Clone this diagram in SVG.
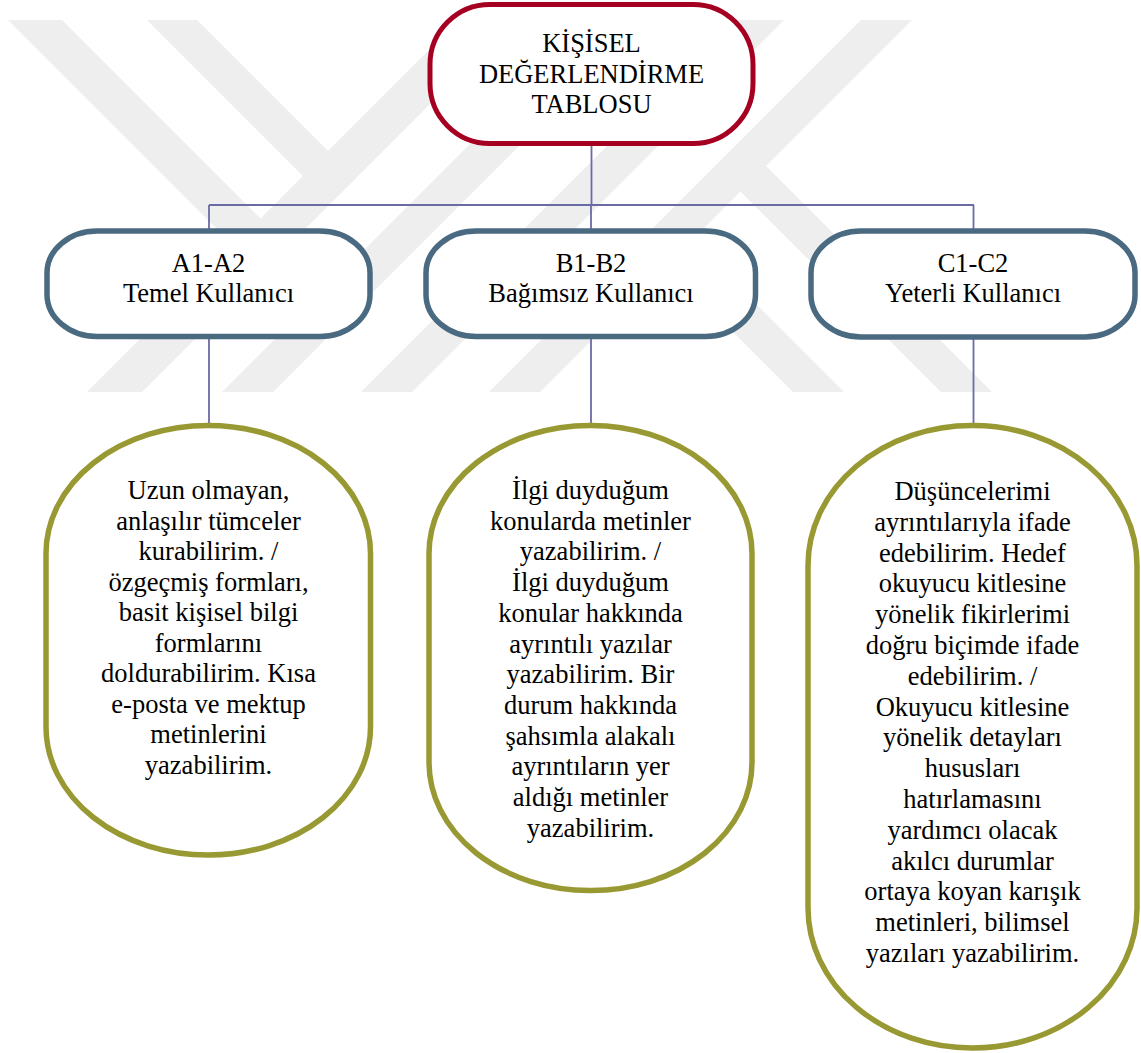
<svg xmlns="http://www.w3.org/2000/svg" width="1141" height="1053" viewBox="0 0 1141 1053">
<style>
  .wm { fill: #eeeeee; }
  .conn { stroke: #6a6aa5; stroke-width: 1.8; fill: none; }
  .top { fill: #ffffff; stroke: #a50021; stroke-width: 5; }
  .mid { fill: #ffffff; stroke: #4a6a81; stroke-width: 5.5; }
  .leaf { fill: #ffffff; stroke: #999933; stroke-width: 5.5; }
  .t { font-family: 'Liberation Serif', 'DejaVu Serif', serif; font-size: 26.5px; fill: #000000; text-anchor: middle; }
</style>
<rect x="0" y="0" width="1141" height="1053" fill="#ffffff"/>
<g id="watermark">
  <polygon class="wm" points="87,392 142,392 514,20 459,20"/>
  <polygon class="wm" points="222,392 273,392 645,20 594,20"/>
  <polygon class="wm" points="361,392 412,392 784,20 733,20"/>
  <polygon class="wm" points="489,392 540,392 912,20 861,20"/>
  <polygon class="wm" points="8,20 62,20 288,246 261,273"/>
  <polygon class="wm" points="147,20 197,20 355.5,178.5 330.5,203.5"/>
  <polygon class="wm" points="715,166 766,166 992,392 941,392"/>
  <polygon class="wm" points="641,240 692,240 844,392 793,392"/>
</g>
<g id="connectors">
  <line class="conn" x1="591.5" y1="145" x2="591.5" y2="205"/>
  <line class="conn" x1="209" y1="205" x2="974" y2="205"/>
  <line class="conn" x1="209" y1="205" x2="209" y2="231"/>
  <line class="conn" x1="591" y1="205" x2="591" y2="231"/>
  <line class="conn" x1="973.5" y1="205" x2="973.5" y2="231"/>
  <line class="conn" x1="209" y1="337" x2="209" y2="425"/>
  <line class="conn" x1="591" y1="337" x2="591" y2="425"/>
  <line class="conn" x1="973.5" y1="337" x2="973.5" y2="425"/>
</g>
<g id="node-root" class="t" font-family="Liberation Serif, serif">
  <rect class="top" x="430" y="4.5" width="323" height="139" rx="60" ry="60"/>
  <text x="591.5" y="52">KİŞİSEL</text>
  <text x="591.5" y="82.5">DEĞERLENDİRME</text>
  <text x="591.5" y="113">TABLOSU</text>
</g>
<g id="node-a" class="t" font-family="Liberation Serif, serif">
  <rect class="mid" x="47" y="231" width="323" height="105.5" rx="50" ry="42"/>
  <text x="208.5" y="272.3">A1-A2</text>
  <text x="208.5" y="302">Temel Kullanıcı</text>
</g>
<g id="node-b" class="t" font-family="Liberation Serif, serif">
  <rect class="mid" x="426" y="231" width="329.5" height="105.5" rx="50" ry="42"/>
  <text x="591" y="272.3">B1-B2</text>
  <text x="591" y="302">Bağımsız Kullanıcı</text>
</g>
<g id="node-c" class="t" font-family="Liberation Serif, serif">
  <rect class="mid" x="811" y="231" width="324" height="106" rx="50" ry="42"/>
  <text x="973" y="272.3">C1-C2</text>
  <text x="973" y="302">Yeterli Kullanıcı</text>
</g>
<g id="leaf-a" class="t" font-family="Liberation Serif, serif">
  <rect class="leaf" x="46" y="425.5" width="324.5" height="429.5" rx="162" ry="128"/>
  <text x="208.5" y="499.3">Uzun olmayan,</text>
  <text x="208.5" y="529.8">anlaşılır tümceler</text>
  <text x="208.5" y="560.3">kurabilirim. /</text>
  <text x="208.5" y="590.8">özgeçmiş formları,</text>
  <text x="208.5" y="621.3">basit kişisel bilgi</text>
  <text x="208.5" y="651.8">formlarını</text>
  <text x="208.5" y="682.3">doldurabilirim. Kısa</text>
  <text x="208.5" y="712.8">e-posta ve mektup</text>
  <text x="208.5" y="743.3">metinlerini</text>
  <text x="208.5" y="773.8">yazabilirim.</text>
</g>
<g id="leaf-b" class="t" font-family="Liberation Serif, serif">
  <rect class="leaf" x="429" y="425.5" width="323" height="465" rx="161" ry="128"/>
  <text x="590.5" y="499">İlgi duyduğum</text>
  <text x="590.5" y="529.7">konularda metinler</text>
  <text x="590.5" y="560.4">yazabilirim. /</text>
  <text x="590.5" y="591.1">İlgi duyduğum</text>
  <text x="590.5" y="621.8">konular hakkında</text>
  <text x="590.5" y="652.5">ayrıntılı yazılar</text>
  <text x="590.5" y="683.2">yazabilirim. Bir</text>
  <text x="590.5" y="713.9">durum hakkında</text>
  <text x="590.5" y="744.6">şahsımla alakalı</text>
  <text x="590.5" y="775.3">ayrıntıların yer</text>
  <text x="590.5" y="806">aldığı metinler</text>
  <text x="590.5" y="836.7">yazabilirim.</text>
</g>
<g id="leaf-c" class="t" font-family="Liberation Serif, serif">
  <rect class="leaf" x="808" y="425.5" width="329" height="622.5" rx="164" ry="140"/>
  <text x="972.5" y="500">Düşüncelerimi</text>
  <text x="972.5" y="530.8">ayrıntılarıyla ifade</text>
  <text x="972.5" y="561.6">edebilirim. Hedef</text>
  <text x="972.5" y="592.4">okuyucu kitlesine</text>
  <text x="972.5" y="623.2">yönelik fikirlerimi</text>
  <text x="972.5" y="654">doğru biçimde ifade</text>
  <text x="972.5" y="684.8">edebilirim. /</text>
  <text x="972.5" y="715.6">Okuyucu kitlesine</text>
  <text x="972.5" y="746.4">yönelik detayları</text>
  <text x="972.5" y="777.2">hususları</text>
  <text x="972.5" y="808">hatırlamasını</text>
  <text x="972.5" y="838.8">yardımcı olacak</text>
  <text x="972.5" y="869.6">akılcı durumlar</text>
  <text x="972.5" y="900.4">ortaya koyan karışık</text>
  <text x="972.5" y="931.2">metinleri, bilimsel</text>
  <text x="972.5" y="962">yazıları yazabilirim.</text>
</g>
</svg>
